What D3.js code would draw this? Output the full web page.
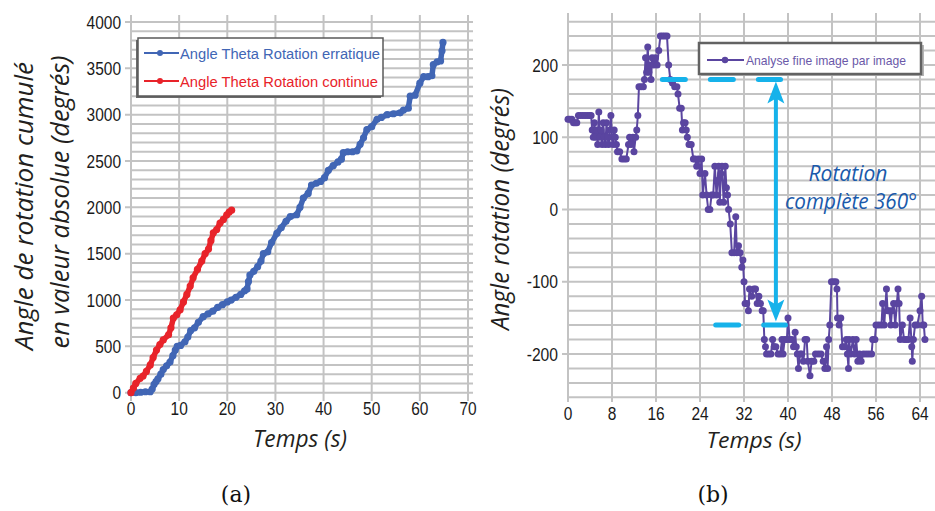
<!DOCTYPE html>
<html><head><meta charset="utf-8">
<script src="https://cdn.jsdelivr.net/npm/d3@7"></script>
<style>
html,body{margin:0;padding:0;background:#fff;}
svg{display:block;}
.tick-lbl{font-family:"Liberation Sans Narrow","Arial Narrow","Liberation Sans",Arial,sans-serif;font-size:18px;fill:#1a1a1a;}
.ttl{font-family:"Open Sans","Noto Sans",sans-serif;font-style:italic;fill:#231f20;}
.cap{font-family:"DejaVu Serif","Liberation Serif",serif;font-size:22px;fill:#111;}
</style>
</head><body>
<svg id="chart" width="935" height="511"></svg>
<script>
// ---------- DATA ----------
// Panel (a): cumulative absolute rotation angle (degrees) vs time (s)
const erraticSeries = [[0,0],[1,0],[2,5],[3,10],[4,10],[4.4,40],[4.8,90],[5.2,120],[5.6,150],[6.2,200],[6.7,250],[7.4,290],[8.1,330],[8.7,400],[9.2,460],[9.6,500],[10.3,510],[11.2,550],[11.8,600],[12.4,670],[13.2,700],[14,760],[15,820],[16,850],[17,880],[18,920],[19,950],[20,980],[20.8,1000],[21.8,1030],[22.8,1060],[23.6,1100],[24.1,1120],[24.4,1200],[24.7,1270],[25.5,1310],[26.3,1360],[27,1420],[27.5,1500],[28.4,1520],[29.2,1620],[30.3,1720],[31.2,1780],[32.2,1850],[33.1,1900],[34.4,1920],[35.1,2000],[35.8,2100],[36.8,2150],[37.5,2240],[38.5,2260],[39.4,2280],[40.2,2320],[41,2400],[42,2450],[43,2490],[43.7,2520],[44.1,2590],[45,2600],[46,2600],[46.9,2610],[47.6,2680],[48.3,2750],[49,2840],[50,2870],[51.1,2950],[52,2970],[53.2,3000],[54.5,3010],[55.9,3020],[56.6,3050],[57.6,3070],[58,3200],[59,3210],[60,3340],[60.8,3410],[61.7,3410],[62.5,3420],[62.8,3540],[63.6,3570],[64.3,3580],[64.6,3690],[64.8,3780]];
const continuousSeries = [[0,0],[0.5,50],[1,100],[1.9,155],[2.5,180],[3.2,230],[4,300],[4.6,380],[5.3,460],[6,520],[6.7,570],[7.8,625],[8.3,700],[8.8,805],[9.5,840],[10.2,895],[10.9,980],[11.6,1060],[12.3,1150],[12.9,1240],[13.8,1330],[14.7,1420],[15.4,1500],[16.1,1550],[16.6,1640],[17.1,1725],[17.8,1760],[18.5,1830],[19.2,1870],[19.9,1920],[20.4,1950],[20.9,1970]];
const legendA = ["Angle Theta Rotation erratique","Angle Theta Rotation continue"];
const xTicksA = [0,10,20,30,40,50,60,70];
const yTicksA = [0,500,1000,1500,2000,2500,3000,3500,4000];

// Panel (b): frame by frame angle (degrees) vs time (s)
const frameSeries = [[0,125],[0.3,125],[0.7,125],[1,120],[1.3,120],[1.6,120],[1.9,130],[2.3,130],[2.7,130],[3.1,130],[3.5,130],[3.9,130],[4.2,130],[4.4,110],[4.6,100],[4.8,120],[5.0,100],[5.2,110],[5.4,90],[5.6,135],[5.8,100],[6.0,110],[6.2,90],[6.4,120],[6.6,100],[6.8,90],[7.0,120],[7.2,100],[7.4,90],[7.6,110],[7.8,130],[8.0,100],[8.2,90],[8.4,110],[8.6,100],[8.8,90],[9.0,80],[9.4,80],[9.8,70],[10.2,70],[10.6,70],[11.0,90],[11.2,100],[11.5,90],[11.8,100],[12.0,80],[12.3,100],[12.5,110],[12.7,130],[12.9,170],[13.3,170],[13.7,170],[13.9,180],[14.1,210],[14.3,190],[14.5,225],[14.7,190],[14.9,200],[15.1,180],[15.3,210],[15.6,200],[15.9,210],[16.2,200],[16.5,220],[16.8,240],[17.2,240],[17.6,240],[18.0,240],[18.3,200],[18.6,180],[19.0,175],[19.4,170],[19.8,170],[20.0,160],[20.3,140],[20.6,140],[20.8,110],[21.0,120],[21.3,120],[21.5,110],[21.7,100],[22.0,90],[22.4,90],[22.8,70],[23.1,70],[23.4,60],[23.7,70],[24.0,50],[24.3,70],[24.5,20],[24.9,50],[25.2,20],[25.5,0],[25.8,0],[26.1,20],[26.4,20],[26.7,60],[27.0,20],[27.2,40],[27.4,60],[27.6,10],[27.8,50],[28.0,60],[28.3,10],[28.6,60],[28.8,30],[29.0,20],[29.2,0],[29.5,-20],[29.8,-60],[30.2,-60],[30.5,-10],[30.7,-60],[31.0,-50],[31.3,-60],[31.6,-80],[31.8,-70],[32.0,-100],[32.2,-130],[32.5,-130],[32.8,-140],[33.0,-110],[33.4,-120],[33.8,-110],[34.1,-110],[34.4,-130],[34.7,-120],[35.0,-130],[35.3,-140],[35.5,-140],[35.7,-180],[35.9,-190],[36.1,-200],[36.5,-200],[36.9,-200],[37.2,-180],[37.5,-190],[37.8,-190],[38.2,-200],[38.6,-200],[38.9,-180],[39.1,-200],[39.4,-180],[39.8,-180],[40.0,-150],[40.3,-180],[40.7,-180],[41.0,-190],[41.3,-170],[41.5,-190],[41.7,-200],[41.9,-220],[42.2,-200],[42.5,-200],[42.8,-210],[43.1,-180],[43.4,-180],[43.6,-210],[44.0,-230],[44.3,-210],[44.7,-210],[45.0,-200],[45.5,-200],[46.0,-200],[46.4,-210],[46.7,-220],[47.0,-190],[47.2,-220],[47.4,-180],[47.6,-160],[47.9,-100],[48.3,-100],[48.7,-100],[48.9,-110],[49.0,-150],[49.3,-160],[49.6,-150],[49.9,-190],[50.3,-190],[50.6,-180],[50.8,-200],[51.0,-220],[51.1,-180],[51.4,-200],[51.8,-180],[52.1,-200],[52.4,-180],[52.7,-210],[53.0,-200],[53.3,-210],[53.7,-200],[54.2,-200],[54.7,-200],[55.2,-200],[55.4,-180],[55.8,-180],[56.0,-160],[56.5,-160],[57.0,-160],[57.2,-130],[57.5,-160],[57.9,-110],[58.1,-140],[58.4,-140],[58.7,-160],[58.9,-140],[59.2,-130],[59.5,-160],[59.8,-130],[60.0,-110],[60.2,-130],[60.4,-180],[60.8,-160],[61.1,-180],[61.5,-180],[61.9,-180],[62.2,-150],[62.5,-190],[62.6,-210],[62.8,-180],[63.1,-160],[63.5,-160],[64.0,-140],[64.3,-120],[64.5,-160],[64.7,-160],[64.9,-180]];
const legendB = ["Analyse fine image par image"];
const xTicksB = [0,8,16,24,32,40,48,56,64];
const yTicksB = [-200,-100,0,100,200];
// annotation: full 360° rotation between 180 and -160 (dashed reference levels)
const upperLevel = {value:180, from:16.7, to:39.1};
const lowerLevel = {value:-160, from:26.4, to:40};
const arrowSpan = {t:37.8, top:177, bottom:-155};
const annotationText = ["Rotation","complète 360°"];

// ---------- DRAW ----------
const svg = d3.select("#chart");
const gridColor = "#c3c3c3";
// condensed look for numeric labels
const lblLen = d => { const s = String(d); return s.replace("-","").length*8.6 + (s.includes("-") ? 5.5 : 0); };

// ===== Panel (a) =====
const xA = d3.scaleLinear().domain([0,70]).range([131,468]);
const yA = d3.scaleLinear().domain([0,4000]).range([392.7,22]);
const gA = svg.append("g");
gA.append("g").selectAll("line").data(d3.range(0,4001,100)).join("line")
  .attr("x1", d => d%500===0 ? 125 : 131).attr("x2", 473)
  .attr("y1", d => yA(d)).attr("y2", d => yA(d))
  .attr("stroke", gridColor).attr("stroke-width", 2);
gA.append("g").selectAll("line").data(xTicksA).join("line")
  .attr("x1", d => xA(d)).attr("x2", d => xA(d)).attr("y1", 15).attr("y2", 401)
  .attr("stroke", gridColor).attr("stroke-width", 2);
gA.append("g").selectAll("text").data(yTicksA).join("text").attr("class","tick-lbl")
  .attr("x", 121).attr("y", d => yA(d)+6.5).attr("text-anchor","end")
  .attr("textLength", lblLen).attr("lengthAdjust","spacingAndGlyphs").text(d => d);
gA.append("g").selectAll("text").data(xTicksA).join("text").attr("class","tick-lbl")
  .attr("x", d => xA(d)).attr("y", 415).attr("text-anchor","middle")
  .attr("textLength", lblLen).attr("lengthAdjust","spacingAndGlyphs").text(d => d);

const lineA = d3.line().x(d => xA(d[0])).y(d => yA(d[1]));
function drawSeries(g, data, line, color, sw, r, x, y){
  g.append("path").datum(data).attr("d", line).attr("fill","none")
    .attr("stroke", color).attr("stroke-width", sw).attr("stroke-linejoin","round");
  g.append("g").selectAll("circle").data(data).join("circle")
    .attr("cx", d => x(d[0])).attr("cy", d => y(d[1])).attr("r", r).attr("fill", color);
}
drawSeries(gA, erraticSeries, lineA, "#4166b5", 5.5, 3.6, xA, yA);
drawSeries(gA, continuousSeries, lineA, "#e8232a", 5.5, 3.6, xA, yA);

gA.append("text").attr("class","ttl").attr("font-size",25)
  .attr("transform","translate(33,206) rotate(-90)").attr("text-anchor","middle")
  .attr("textLength",288).attr("lengthAdjust","spacingAndGlyphs").text("Angle de rotation cumulé");
gA.append("text").attr("class","ttl").attr("font-size",25)
  .attr("transform","translate(69,202) rotate(-90)").attr("text-anchor","middle")
  .attr("textLength",293).attr("lengthAdjust","spacingAndGlyphs").text("en valeur absolue (degrés)");
gA.append("text").attr("class","ttl").attr("font-size",23)
  .attr("x",300).attr("y",446.5).attr("text-anchor","middle")
  .attr("textLength",94).attr("lengthAdjust","spacingAndGlyphs").text("Temps (s)");

const legA = gA.append("g");
legA.append("rect").attr("x",136).attr("y",40).attr("width",245).attr("height",58).attr("fill","#6a6a6a");
legA.append("rect").attr("x",138).attr("y",38).attr("width",245).attr("height",58)
  .attr("fill","#fff").attr("stroke","#5a5a5a").attr("stroke-width",1.5);
const legColorsA = ["#4166b5","#e8232a"];
legendA.forEach((t,i) => {
  const yy = 53 + i*28;
  legA.append("line").attr("x1",144).attr("x2",179).attr("y1",yy).attr("y2",yy)
    .attr("stroke",legColorsA[i]).attr("stroke-width",2);
  legA.append("circle").attr("cx",160).attr("cy",yy).attr("r",3).attr("fill",legColorsA[i]);
  legA.append("text").attr("x",180).attr("y",yy+5.5)
    .attr("font-family","'Liberation Sans Narrow','Liberation Sans',Arial,sans-serif")
    .attr("font-size",15.5).attr("fill",legColorsA[i])
    .attr("textLength", i===0 ? 200 : 198).attr("lengthAdjust","spacingAndGlyphs").text(t);
});
svg.append("text").attr("class","cap").attr("x",236).attr("y",502).attr("text-anchor","middle").text("(a)");

// ===== Panel (b) =====
const xB = d3.scaleLinear().domain([0,64]).range([568,920]);
const yB = d3.scaleLinear().domain([-200,200]).range([354,65]);
const gB = svg.append("g");
gB.append("g").selectAll("line").data(d3.range(-260,261,20)).join("line")
  .attr("x1", d => d%100===0 ? 562 : 568).attr("x2", 935)
  .attr("y1", d => yB(d)).attr("y2", d => yB(d))
  .attr("stroke", gridColor).attr("stroke-width", 2);
gB.append("g").selectAll("line").data(xTicksB).join("line")
  .attr("x1", d => xB(d)).attr("x2", d => xB(d)).attr("y1", 13).attr("y2", 402)
  .attr("stroke", gridColor).attr("stroke-width", 2);
gB.append("g").selectAll("text").data(yTicksB).join("text").attr("class","tick-lbl")
  .attr("x", 558).attr("y", d => yB(d)+6.5).attr("text-anchor","end")
  .attr("textLength", lblLen).attr("lengthAdjust","spacingAndGlyphs").text(d => d);
gB.append("g").selectAll("text").data(xTicksB).join("text").attr("class","tick-lbl")
  .attr("x", d => xB(d)).attr("y", 420).attr("font-size",17.5).style("font-size","17.5px")
  .attr("text-anchor","middle")
  .attr("textLength", lblLen).attr("lengthAdjust","spacingAndGlyphs").text(d => d);

const lineB = d3.line().x(d => xB(d[0])).y(d => yB(d[1]));
drawSeries(gB, frameSeries, lineB, "#5a45a0", 2, 3.5, xB, yB);

const cyan = "#16b2ea";
[upperLevel, lowerLevel].forEach(l => {
  gB.append("line").attr("x1", xB(l.from)+2.5).attr("x2", xB(l.to)-2.5)
    .attr("y1", yB(l.value)).attr("y2", yB(l.value))
    .attr("stroke", cyan).attr("stroke-width",5).attr("stroke-linecap","round")
    .attr("stroke-dasharray","23 25");
});
const ax = xB(arrowSpan.t), aTop = yB(arrowSpan.top), aBot = yB(arrowSpan.bottom);
gB.append("line").attr("x1",ax).attr("x2",ax).attr("y1",aTop+15).attr("y2",aBot-15)
  .attr("stroke",cyan).attr("stroke-width",4);
gB.append("path").attr("d",`M${ax},${aTop} L${ax-8.5},${aTop+22} L${ax},${aTop+17} L${ax+8.5},${aTop+22} Z`).attr("fill",cyan);
gB.append("path").attr("d",`M${ax},${aBot} L${ax-8.5},${aBot-22} L${ax},${aBot-17} L${ax+8.5},${aBot-22} Z`).attr("fill",cyan);
gB.append("text").attr("class","ttl").attr("font-size",21).style("fill","#1a5aab")
  .attr("x",848).attr("y",181).attr("text-anchor","middle")
  .attr("textLength",79).attr("lengthAdjust","spacingAndGlyphs").text(annotationText[0]);
gB.append("text").attr("class","ttl").attr("font-size",21).style("fill","#1a5aab")
  .attr("x",851).attr("y",209).attr("text-anchor","middle")
  .attr("textLength",132).attr("lengthAdjust","spacingAndGlyphs").text(annotationText[1]);

gB.append("text").attr("class","ttl").attr("font-size",25)
  .attr("transform","translate(509,209) rotate(-90)").attr("text-anchor","middle")
  .attr("textLength",242).attr("lengthAdjust","spacingAndGlyphs").text("Angle rotation (degrés)");
gB.append("text").attr("class","ttl").attr("font-size",22)
  .attr("x",754).attr("y",447.5).attr("text-anchor","middle")
  .attr("textLength",95).attr("lengthAdjust","spacingAndGlyphs").text("Temps (s)");

const legB = gB.append("g");
legB.append("rect").attr("x",701).attr("y",45).attr("width",223).attr("height",31).attr("fill","#b5b5b5");
legB.append("rect").attr("x",699).attr("y",43).attr("width",222).attr("height",31)
  .attr("fill","#fff").attr("stroke","#626262").attr("stroke-width",2.5);
legB.append("line").attr("x1",707).attr("x2",744).attr("y1",60).attr("y2",60)
  .attr("stroke","#5a45a0").attr("stroke-width",1.8);
legB.append("circle").attr("cx",725).attr("cy",60).attr("r",3.2).attr("fill","#5a45a0");
legB.append("text").attr("x",746).attr("y",65)
  .attr("font-family","'Liberation Sans Narrow','Liberation Sans',Arial,sans-serif")
  .attr("font-size",13.5).attr("fill","#6a58a8")
  .attr("textLength",160).attr("lengthAdjust","spacingAndGlyphs").text(legendB[0]);
svg.append("text").attr("class","cap").attr("x",713).attr("y",502).attr("text-anchor","middle").text("(b)");
</script>
</body></html>
